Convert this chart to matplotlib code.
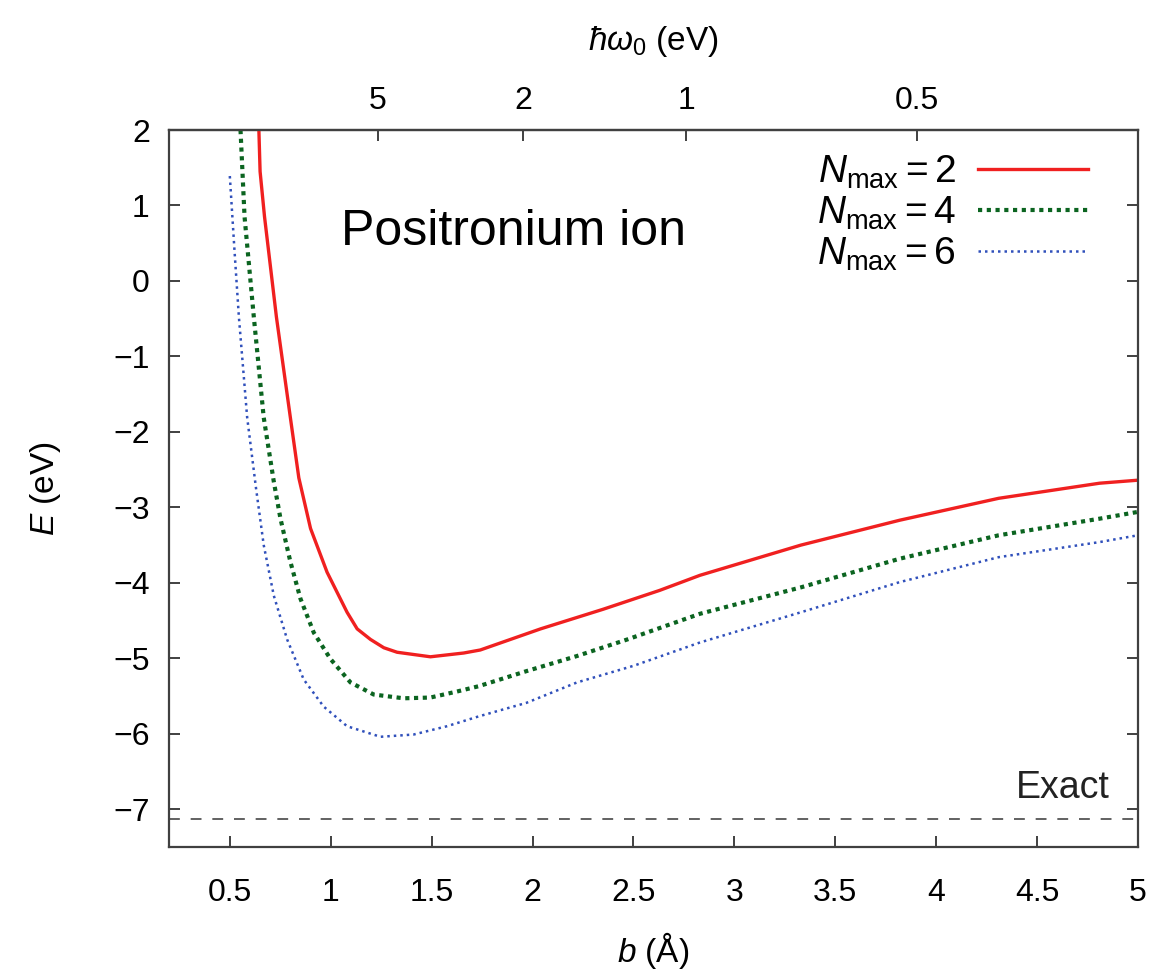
import numpy as np
import matplotlib
matplotlib.use('Agg')
import matplotlib.pyplot as plt

plt.rcParams['font.family'] = ['Liberation Sans', 'DejaVu Sans']
plt.rcParams['mathtext.fontset'] = 'custom'
plt.rcParams['mathtext.rm'] = 'Liberation Sans'
plt.rcParams['mathtext.it'] = 'Liberation Sans:italic'

# Data: b (Angstrom) vs E (eV)
b_n2 = [0.644, 0.650, 0.672, 0.731, 0.80, 0.842, 0.90, 0.982, 1.081, 1.131, 1.197, 1.263,
        1.329, 1.494, 1.659, 1.741, 2.04, 2.35, 2.63, 2.83, 3.33, 3.82, 4.31, 4.81, 5.0]
E_n2 = [2.0, 1.45, 0.85, -0.48, -1.81, -2.61, -3.28, -3.86, -4.39, -4.61, -4.75, -4.86,
        -4.92, -4.98, -4.93, -4.89, -4.61, -4.35, -4.10, -3.90, -3.50, -3.17, -2.88, -2.68, -2.64]

b_n4 = [0.553, 0.573, 0.619, 0.668, 0.718, 0.751, 0.80, 0.85, 0.916, 0.999, 1.098, 1.213,
        1.361, 1.494, 1.626, 1.733, 1.97, 2.22, 2.47, 2.83, 3.33, 3.82, 4.31, 4.81, 5.0]
E_n4 = [2.0, 0.85, -0.48, -1.81, -2.66, -3.15, -3.72, -4.21, -4.66, -5.01, -5.32, -5.48,
        -5.53, -5.52, -5.44, -5.37, -5.17, -4.97, -4.75, -4.41, -4.06, -3.68, -3.37, -3.15, -3.06]

b_n6 = [0.50, 0.523, 0.545, 0.586, 0.63, 0.668, 0.718, 0.784, 0.866, 0.965, 1.081, 1.246,
        1.411, 1.576, 1.733, 1.97, 2.22, 2.50, 2.83, 3.33, 3.82, 4.31, 4.81, 5.0]
E_n6 = [1.39, 0.41, -0.48, -1.81, -2.75, -3.50, -4.17, -4.75, -5.28, -5.64, -5.90, -6.04,
        -6.01, -5.90, -5.77, -5.59, -5.32, -5.10, -4.79, -4.39, -3.99, -3.66, -3.46, -3.37]

E_exact = -7.13
hw_ticks = [5, 2, 1, 0.5]
HBAR2_M = 7.62  # eV A^2


def b_to_hw(b):
    b = np.asarray(b, dtype=float)
    return HBAR2_M / np.maximum(b, 1e-6) ** 2


def hw_to_b(hw):
    hw = np.asarray(hw, dtype=float)
    return np.sqrt(HBAR2_M / np.maximum(hw, 1e-6))


fig = plt.figure(figsize=(11.65, 9.76), dpi=100)
ax = fig.add_axes([0.1453, 0.1322, 0.8315, 0.7346])

ax.plot(b_n2, E_n2, color='#f02020', lw=2.4, label=r'$N_{\rm max} = 2$')
ax.plot(b_n4, E_n4, color='#0b6420', lw=3.0, linestyle=(0, (1.0, 1.1)),
        label=r'$N_{\rm max} = 4$')
ax.plot(b_n6, E_n6, color='#3050bb', lw=1.8, linestyle=(0, (1.0, 1.6)),
        label=r'$N_{\rm max} = 6$')
ax.axhline(E_exact, color='#555555', lw=1.3, linestyle=(0, (6, 6)))

ax.set_xlim(0.2, 5.0)
ax.set_ylim(-7.5, 2.0)
ax.set_xticks([0.5, 1, 1.5, 2, 2.5, 3, 3.5, 4, 4.5, 5])
ax.set_xticklabels(['0.5', '1', '1.5', '2', '2.5', '3', '3.5', '4', '4.5', '5'])
ax.set_yticks(range(-7, 3))

for s in ax.spines.values():
    s.set_color('#404040')
    s.set_linewidth(1.6)
ax.tick_params(axis='x', direction='in', length=8, width=1.4, color='#404040',
               labelsize=23, pad=22, top=False)
ax.tick_params(axis='y', direction='in', length=8, width=1.4, color='#404040',
               labelsize=23, pad=14, right=True)

ax.set_xlabel(r'$b$ (Å)', fontsize=24, labelpad=16)
ax.set_ylabel(r'$E$ (eV)', fontsize=24, labelpad=36)

sec = ax.secondary_xaxis('top', functions=(b_to_hw, hw_to_b))
sec.set_xticks(hw_ticks)
sec.set_xticklabels(['5', '2', '1', '0.5'])
sec.tick_params(direction='in', length=8, width=1.4, color='#404040', labelsize=23, pad=10)
sec.minorticks_off()
sec.spines['top'].set_color('#404040')
sec.spines['top'].set_linewidth(1.6)
sec.set_xlabel(r'$\hbar\omega_0$ (eV)', fontsize=24, labelpad=26)

ax.text(1.05, 0.47, 'Positronium ion', fontsize=36, va='baseline', ha='left')
ax.text(4.86, -6.72, 'Exact', fontsize=27, ha='right', va='center', color='#222222')

ax.legend(loc='upper right', frameon=False, markerfirst=False, fontsize=28,
          handlelength=2.85, handletextpad=0.57, labelspacing=0.1,
          borderaxespad=0.2, bbox_to_anchor=(0.973, 1.0))

fig.savefig('out.png', dpi=100)
